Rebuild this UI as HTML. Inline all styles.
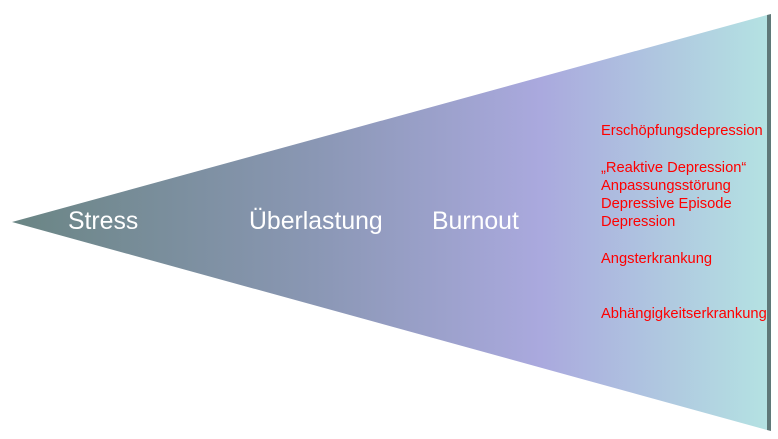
<!DOCTYPE html>
<html><head><meta charset="utf-8"><style>
html,body{margin:0;padding:0;background:#fff;}
body{width:778px;height:439px;position:relative;overflow:hidden;font-family:"Liberation Sans",Arial,sans-serif;}
.w{position:absolute;color:#fff;font-size:24.8px;line-height:24px;}
.r{position:absolute;left:601px;color:#ff0000;font-size:14.7px;line-height:18px;white-space:nowrap;}
</style></head><body>
<svg width="778" height="439" style="position:absolute;left:0;top:0">
<defs>
<linearGradient id="g" x1="12" y1="0" x2="768" y2="0" gradientUnits="userSpaceOnUse">
<stop offset="0" stop-color="#6a8584"/>
<stop offset="0.4" stop-color="#8a97b4"/>
<stop offset="0.7" stop-color="#aaa9de"/>
<stop offset="1" stop-color="#b4e2e2"/>
</linearGradient>
</defs>
<polygon points="12,222 767,15 767,430" fill="url(#g)"/>
<polygon points="767,15 771,14 771,431 767,430" fill="#5f7878"/>
</svg>
<div class="w" style="left:68px;top:210px">Stress</div>
<div class="w" style="left:249px;top:210px">Überlastung</div>
<div class="w" style="left:432px;top:210px">Burnout</div>
<div class="r" style="top:122px">Erschöpfungsdepression</div>
<div class="r" style="top:159px">„Reaktive Depression“</div>
<div class="r" style="top:177px">Anpassungsstörung</div>
<div class="r" style="top:195px">Depressive Episode</div>
<div class="r" style="top:213px">Depression</div>
<div class="r" style="top:250px">Angsterkrankung</div>
<div class="r" style="top:305px">Abhängigkeitserkrankung</div>
</body></html>
